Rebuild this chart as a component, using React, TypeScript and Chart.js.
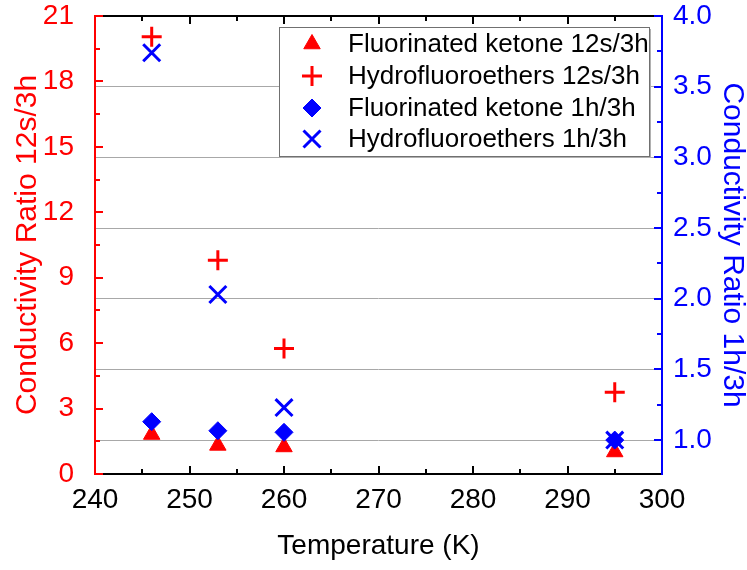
import React, { useEffect, useRef } from 'react';
import { Chart, registerables } from 'chart.js';

Chart.register(...registerables);

const temperatures = [246, 253, 260, 295];
const fkRatio12s = [1.81, 1.31, 1.24, 1.01];
const hfeRatio12s = [20.05, 9.8, 5.75, 3.75];
const fkRatio1h = [1.13, 1.066, 1.055, 1.0];
const hfeRatio1h = [3.74, 2.03, 1.23, 1.0];
const seriesLabels = [
  'Fluorinated ketone 12s/3h',
  'Hydrofluoroethers 12s/3h',
  'Fluorinated ketone 1h/3h',
  'Hydrofluoroethers 1h/3h',
];
const xMajorTicks = [240, 250, 260, 270, 280, 290, 300];
const leftMajorTicks = [0, 3, 6, 9, 12, 15, 18, 21];
const rightMajorTicks = [1.0, 1.5, 2.0, 2.5, 3.0, 3.5, 4.0];
const xTitle = 'Temperature (K)';
const leftTitle = 'Conductivity Ratio 12s/3h';
const rightTitle = 'Conductivity Ratio 1h/3h';

const FONT = "'Liberation Sans', Arial, Helvetica, sans-serif";
const RED = '#ff0000';
const BLUE = '#0000ff';

const markerStyles = [
  { style: 'triangle', color: RED, radius: 9.5, fill: true, bw: 1 },
  { style: 'cross', color: RED, radius: 10, fill: false, bw: 3 },
  { style: 'rectRot', color: BLUE, radius: 9, fill: true, bw: 1 },
  { style: 'crossRot', color: BLUE, radius: 12, fill: false, bw: 3 },
];

function drawMarker(ctx: CanvasRenderingContext2D, style: string, x: number, y: number, r: number, color: string, fill: boolean, bw: number) {
  ctx.save();
  ctx.fillStyle = color;
  ctx.strokeStyle = color;
  ctx.lineWidth = bw;
  ctx.beginPath();
  if (style === 'triangle') {
    let rad = 0;
    ctx.moveTo(x + Math.sin(rad) * r, y - Math.cos(rad) * r);
    rad += (2 * Math.PI) / 3;
    ctx.lineTo(x + Math.sin(rad) * r, y - Math.cos(rad) * r);
    rad += (2 * Math.PI) / 3;
    ctx.lineTo(x + Math.sin(rad) * r, y - Math.cos(rad) * r);
    ctx.closePath();
  } else if (style === 'rectRot') {
    ctx.moveTo(x - r, y);
    ctx.lineTo(x, y - r);
    ctx.lineTo(x + r, y);
    ctx.lineTo(x, y + r);
    ctx.closePath();
  } else if (style === 'cross') {
    ctx.moveTo(x, y - r);
    ctx.lineTo(x, y + r);
    ctx.moveTo(x - r, y);
    ctx.lineTo(x + r, y);
  } else if (style === 'crossRot') {
    const o = Math.SQRT1_2 * r;
    ctx.moveTo(x - o, y - o);
    ctx.lineTo(x + o, y + o);
    ctx.moveTo(x - o, y + o);
    ctx.lineTo(x + o, y - o);
  }
  if (fill) ctx.fill();
  ctx.stroke();
  ctx.restore();
}

function tickSegments(values: number[]): [number, number][] {
  const out: [number, number][] = [];
  values.forEach((v, i) => {
    out.push([v, 8]);
    if (i < values.length - 1) out.push([(v + values[i + 1]) / 2, 5]);
  });
  return out;
}

const frameAxesPlugin = {
  id: 'frameAxes',
  afterDraw(chart: any) {
    const ctx: CanvasRenderingContext2D = chart.ctx;
    const area = chart.chartArea;
    const left = Math.round(area.left);
    const right = Math.round(area.right);
    const top = Math.round(area.top);
    const bottom = Math.round(area.bottom);
    const sx = chart.scales.x;
    const sy = chart.scales.y;
    const sy1 = chart.scales.y1;
    ctx.save();
    ctx.lineWidth = 2;
    ctx.lineCap = 'butt';
    ctx.setLineDash([]);

    // black: bottom + top with ticks
    ctx.strokeStyle = '#000000';
    ctx.beginPath();
    ctx.moveTo(left - 1, bottom);
    ctx.lineTo(right + 1, bottom);
    ctx.moveTo(left - 1, top);
    ctx.lineTo(right + 1, top);
    for (const [v, len] of tickSegments(xMajorTicks)) {
      const px = Math.round(sx.getPixelForValue(v));
      ctx.moveTo(px, bottom);
      ctx.lineTo(px, bottom - len);
      ctx.moveTo(px, top);
      ctx.lineTo(px, top + len);
    }
    ctx.stroke();

    // red: left axis with ticks
    ctx.strokeStyle = RED;
    ctx.beginPath();
    ctx.moveTo(left, top - 1);
    ctx.lineTo(left, bottom + 1);
    for (const [v, len] of tickSegments(leftMajorTicks)) {
      const py = Math.round(sy.getPixelForValue(v));
      ctx.moveTo(left, py);
      ctx.lineTo(left + len, py);
    }
    ctx.stroke();

    // blue: right axis with ticks
    ctx.strokeStyle = BLUE;
    ctx.beginPath();
    ctx.moveTo(right, top - 1);
    ctx.lineTo(right, bottom + 1);
    const rightAll = tickSegments(rightMajorTicks);
    rightAll.unshift([0.75, 5]);
    for (const [v, len] of rightAll) {
      if (v < sy1.min) continue;
      const py = Math.round(sy1.getPixelForValue(v));
      ctx.moveTo(right, py);
      ctx.lineTo(right - len, py);
    }
    ctx.stroke();
    ctx.restore();
  },
};

const boxLegendPlugin = {
  id: 'boxLegend',
  afterDraw(chart: any) {
    const { ctx } = chart;
    const bx = 279, by = 27, bw = 370, bh = 129;
    ctx.save();
    ctx.fillStyle = '#b0b0b0';
    ctx.fillRect(bx + 2, by + 2, bw, bh);
    ctx.fillStyle = '#ffffff';
    ctx.fillRect(bx, by, bw, bh);
    ctx.strokeStyle = '#707070';
    ctx.lineWidth = 1;
    ctx.strokeRect(bx + 0.5, by + 0.5, bw, bh);
    ctx.font = `26px ${FONT}`;
    ctx.textAlign = 'left';
    ctx.textBaseline = 'middle';
    const rowY = [44, 76, 108, 139];
    seriesLabels.forEach((label, i) => {
      const m = markerStyles[i];
      drawMarker(ctx, m.style, 312, rowY[i], m.radius, m.color, m.fill, m.bw);
      ctx.fillStyle = '#000';
      ctx.fillText(label, 348, rowY[i] + 1);
    });
    ctx.restore();
  },
};

function toPoints(xs: number[], ys: number[]) {
  return xs.map((x, i) => ({ x, y: ys[i] }));
}

export default function App() {
  const ref = useRef<HTMLCanvasElement | null>(null);

  useEffect(() => {
    if (!ref.current) return;
    const seriesValues = [fkRatio12s, hfeRatio12s, fkRatio1h, hfeRatio1h];
    const axisIds = ['y', 'y', 'y1', 'y1'];
    const orders = [4, 3, 2, 1];
    const datasets = seriesLabels.map((label, i) => {
      const m = markerStyles[i];
      return {
        label,
        data: toPoints(temperatures, seriesValues[i]),
        yAxisID: axisIds[i],
        order: orders[i],
        showLine: false,
        pointStyle: m.style,
        pointRadius: m.radius,
        pointHoverRadius: m.radius,
        pointBorderWidth: m.bw,
        backgroundColor: m.fill ? m.color : 'transparent',
        borderColor: m.color,
      };
    });

    const vFit = (w: number) => (scale: any) => {
      scale.width = w;
      scale.paddingTop = 16;
      scale.paddingBottom = 0;
    };

    const chart = new Chart(ref.current, {
      type: 'scatter',
      data: { datasets } as any,
      options: {
        responsive: false,
        animation: false,
        events: [],
        layout: { padding: 0 },
        plugins: {
          legend: { display: false },
          tooltip: { enabled: false },
        },
        scales: {
          x: {
            type: 'linear',
            position: 'bottom',
            min: 240,
            max: 300,
            afterBuildTicks(scale: any) {
              scale.ticks = xMajorTicks.map((v) => ({ value: v }));
            },
            ticks: { color: '#000', font: { family: FONT, size: 28, lineHeight: 1.15 }, padding: 2, maxRotation: 0 },
            grid: { display: false },
            border: { display: false },
            title: { display: true, text: xTitle, color: '#000', font: { family: FONT, size: 28, lineHeight: 1 }, padding: { top: 0, bottom: 10 } },
            afterFit(scale: any) {
              scale.height = 96;
              scale.paddingLeft = 0;
              scale.paddingRight = 0;
            },
          },
          y: {
            type: 'linear',
            position: 'left',
            min: 0,
            max: 21,
            afterBuildTicks(scale: any) {
              scale.ticks = leftMajorTicks.map((v) => ({ value: v }));
            },
            ticks: { color: RED, font: { family: FONT, size: 28, lineHeight: 1.15 }, padding: 13 },
            grid: { display: false },
            border: { display: false },
            title: { display: true, text: leftTitle, color: RED, font: { family: FONT, size: 30, lineHeight: 1 }, padding: { top: 13, bottom: 0 } },
            afterFit: vFit(95),
          },
          y1: {
            type: 'linear',
            position: 'right',
            min: 0.76,
            max: 4.0,
            afterBuildTicks(scale: any) {
              scale.ticks = rightMajorTicks.map((v) => ({ value: v }));
            },
            ticks: {
              color: BLUE,
              font: { family: FONT, size: 28, lineHeight: 1.15 },
              padding: 11,
              callback: (v: any) => Number(v).toFixed(1),
            },
            grid: { display: true, color: '#a8a8a8', lineWidth: 1, drawTicks: false },
            border: { display: false },
            title: { display: true, text: rightTitle, color: BLUE, font: { family: FONT, size: 30, lineHeight: 1 }, padding: { top: 0, bottom: 0 } },
            afterFit: vFit(85),
          },
        },
      } as any,
      plugins: [frameAxesPlugin, boxLegendPlugin],
    });
    return () => chart.destroy();
  }, []);

  return (
    <div style={{ position: 'absolute', left: 0, top: 0, width: 747, height: 570, background: '#fff' }}>
      <canvas ref={ref} width={747} height={570} style={{ display: 'block' }} />
    </div>
  );
}
